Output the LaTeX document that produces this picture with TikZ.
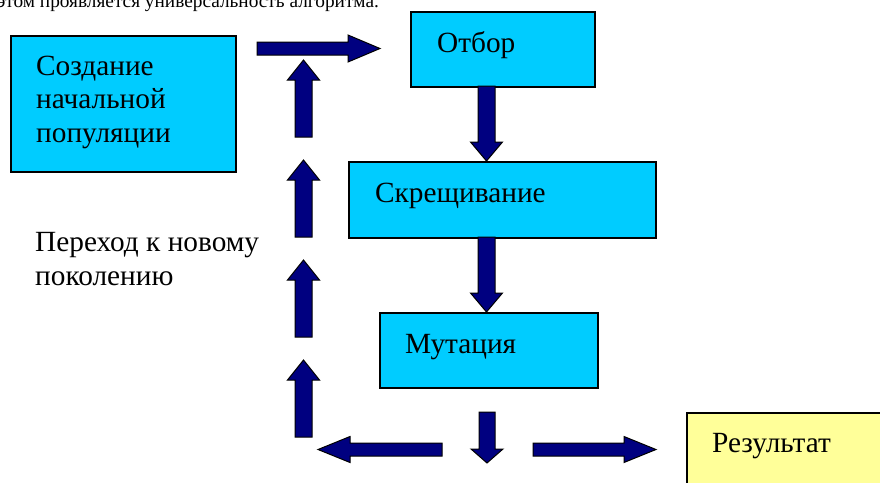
\documentclass[tikz,border=0pt]{standalone}
\usepackage{fontspec}
\setmainfont{Liberation Serif}
\newfontfamily\tnr{Liberation Serif}
\definecolor{boxcyan}{HTML}{00CCFF}
\definecolor{boxyellow}{HTML}{FFFF99}
\definecolor{arrnavy}{HTML}{000080}
\newcommand{\blkarrow}[7]{%
  \begin{scope}[shift={#1},rotate=#2]
    \draw[arrowshape] (0,{-#4/2}) -- ({#3-#6},{-#4/2}) -- ({#3-#6},{-#5/2}) -- (#3,0)
      -- ({#3-#6},{#5/2}) -- ({#3-#6},{#4/2}) -- (0,{#4/2}) -- cycle;
    \coordinate (#7) at (#3,0);
  \end{scope}}
\begin{document}
\begin{tikzpicture}[x=1pt,y=-1pt,
  box/.style={draw=black, line width=1.5pt, fill=boxcyan, inner sep=0pt, anchor=north west},
  rbox/.style={box, fill=boxyellow},
  txt/.style={inner sep=0pt, anchor=base west, font=\tnr\fontsize{29.3}{33.5}\selectfont, align=left},
  headtxt/.style={txt, font=\tnr\fontsize{19.3}{23}\selectfont},
  arrowshape/.style={draw=black, line width=1pt, fill=arrnavy, line join=miter}]
\useasboundingbox (0,0) rectangle (880,482);
\clip (0,0) rectangle (880,482);
% cut-off heading line
\node[headtxt] (head) at (-3,7) {этом проявляется универсальность алгоритма.};
% boxes
\node[box, minimum width=225pt, minimum height=136pt] (sozd) at (10,35) {};
\node[box, minimum width=184pt, minimum height=75pt] (otbor) at (410,11) {};
\node[box, minimum width=307pt, minimum height=76pt] (skresh) at (348,161) {};
\node[box, minimum width=218pt, minimum height=75pt] (mut) at (379,312) {};
\node[rbox, minimum width=220pt, minimum height=90pt] (rez) at (686,412) {};
% texts (base anchor of a multi-line node = last line)
\node[txt] (tsozd) at (36,142) {Создание\\начальной\\популяции};
\node[txt] (totbor) at (437,52) {Отбор};
\node[txt] (tskresh) at (375,202) {Скрещивание};
\node[txt] (tmut) at (405,353) {Мутация};
\node[txt] (trez) at (712,452) {Результат};
\node[txt] (tperehod) at (35,285) {Переход к новому\\поколению};
% block arrows
\blkarrow{(257,48.5)}{0}{123}{13}{27}{32}{a1}
\blkarrow{(303.5,137)}{90}{77}{17}{32}{20}{u1}
\blkarrow{(303.5,237)}{90}{77}{17}{32}{20}{u2}
\blkarrow{(303.5,337)}{90}{77}{17}{32}{20}{u3}
\blkarrow{(303.5,437)}{90}{77}{17}{32}{20}{u4}
\blkarrow{(486.5,86)}{-90}{75}{17}{32}{19}{d1}
\blkarrow{(486.5,237)}{-90}{75}{17}{32}{19}{d2}
\blkarrow{(487,412)}{-90}{51}{16}{32}{14}{d3}
\blkarrow{(442,449.5)}{180}{124}{13}{26}{32}{l1}
\blkarrow{(533,449.5)}{0}{123}{13}{26}{32}{r1}
\end{tikzpicture}
\end{document}
